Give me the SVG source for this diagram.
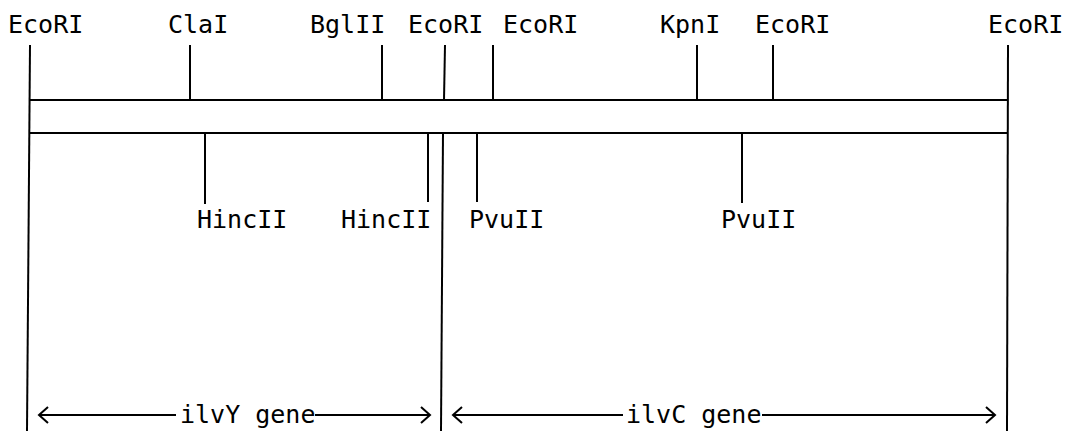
<svg xmlns="http://www.w3.org/2000/svg" width="1072" height="436" viewBox="0 0 1072 436">
<style>
.ln{stroke:#000;stroke-width:2;fill:none;stroke-linecap:butt}
.ah{stroke:#000;stroke-width:2;fill:none;stroke-linejoin:miter}
.t{font-family:"DejaVu Sans Mono","Liberation Mono",monospace;font-size:25px;fill:#000}
</style>
<rect width="1072" height="436" fill="#fff"/>
<g id="map">
<line class="ln" x1="29" y1="100" x2="1008" y2="100"/>
<line class="ln" x1="29" y1="133" x2="1008" y2="133"/>
</g>
<g id="boundary-left"><line class="ln" x1="30" y1="45" x2="27" y2="431"/></g>
<g id="boundary-right"><line class="ln" x1="1008" y1="45" x2="1007" y2="431"/></g>
<g id="boundary-mid"><line class="ln" x1="443" y1="133" x2="441" y2="431"/></g>
<g id="site-EcoRI-1"><text class="t" x="8" y="33">EcoRI</text></g>
<g id="site-ClaI"><line class="ln" x1="190" y1="45" x2="190" y2="100"/><text class="t" x="168" y="33">ClaI</text></g>
<g id="site-BglII"><line class="ln" x1="382" y1="45" x2="382" y2="100"/><text class="t" x="310" y="33">BglII</text></g>
<g id="site-EcoRI-2"><line class="ln" x1="445" y1="45" x2="444" y2="100"/><text class="t" x="408" y="33">EcoRI</text></g>
<g id="site-EcoRI-3"><line class="ln" x1="493" y1="45" x2="493" y2="100"/><text class="t" x="503" y="33">EcoRI</text></g>
<g id="site-KpnI"><line class="ln" x1="697" y1="45" x2="697" y2="100"/><text class="t" x="660" y="33">KpnI</text></g>
<g id="site-EcoRI-4"><line class="ln" x1="773" y1="45" x2="773" y2="100"/><text class="t" x="755" y="33">EcoRI</text></g>
<g id="site-EcoRI-5"><text class="t" x="988" y="33">EcoRI</text></g>
<g id="site-HincII-1"><line class="ln" x1="205" y1="133" x2="205" y2="204"/><text class="t" x="197" y="228">HincII</text></g>
<g id="site-HincII-2"><line class="ln" x1="428" y1="133" x2="428" y2="202"/><text class="t" x="341" y="228">HincII</text></g>
<g id="site-PvuII-1"><line class="ln" x1="477" y1="133" x2="477" y2="202"/><text class="t" x="469" y="228">PvuII</text></g>
<g id="site-PvuII-2"><line class="ln" x1="742" y1="133" x2="742" y2="203"/><text class="t" x="721" y="228">PvuII</text></g>
<g id="gene-ilvY"><text class="t" x="180" y="423">ilvY gene</text></g>
<g id="gene-ilvC"><text class="t" x="626" y="423">ilvC gene</text></g>
<g id="connectors">
<line class="ln" x1="39" y1="415" x2="176" y2="415"/>
<polyline class="ah" points="48,407 39,415 48,423"/>
<line class="ln" x1="315" y1="415" x2="430" y2="415"/>
<polyline class="ah" points="421,407 430,415 421,423"/>
<line class="ln" x1="453" y1="415" x2="623" y2="415"/>
<polyline class="ah" points="462,407 453,415 462,423"/>
<line class="ln" x1="762" y1="415" x2="995" y2="415"/>
<polyline class="ah" points="986,407 995,415 986,423"/>
</g>
</svg>
